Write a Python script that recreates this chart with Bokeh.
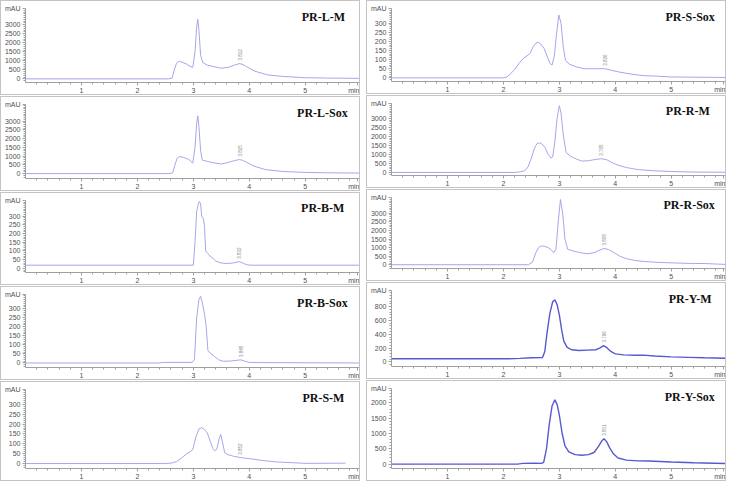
import numpy as np
from bokeh.plotting import figure
from bokeh.layouts import row, column
from bokeh.models import Range1d, FixedTicker
from bokeh.core.properties import value
from bokeh.embed import file_html
from bokeh.resources import INLINE

# ---------------- data (retention time in min, absorbance in mAU) ----------------
lm_t = [0, 2.55, 2.62, 2.66, 2.70, 2.74, 2.80, 2.88, 2.94, 2.99, 3.03, 3.06, 3.08, 3.10, 3.13, 3.17, 3.25, 3.34, 3.45, 3.51, 3.63, 3.75, 3.83, 3.89, 3.95, 4.10, 4.33, 4.62, 5.00, 5.40, 5.97]
lm_y = [0, 0, 40, 500, 880, 970, 920, 820, 700, 640, 1500, 2900, 3300, 2700, 1300, 900, 760, 700, 620, 594, 645, 783, 850, 790, 680, 425, 220, 133, 67, 45, 30]

ls_t = [0, 2.56, 2.63, 2.67, 2.71, 2.75, 2.82, 2.92, 2.99, 3.03, 3.06, 3.08, 3.10, 3.13, 3.16, 3.25, 3.33, 3.50, 3.62, 3.73, 3.82, 3.88, 3.93, 4.08, 4.30, 4.60, 5.00, 5.40, 5.97]
ls_y = [0, 0, 40, 480, 880, 976, 930, 805, 600, 1500, 2900, 3305, 2700, 1300, 770, 700, 634, 548, 634, 736, 805, 760, 685, 428, 222, 120, 68, 45, 30]

bm_t = [0, 3.00, 3.03, 3.06, 3.09, 3.11, 3.13, 3.15, 3.18, 3.20, 3.22, 3.26, 3.30, 3.35, 3.40, 3.48, 3.58, 3.70, 3.78, 3.83, 3.90, 3.96, 4.05, 5.97]
bm_y = [18, 18, 150, 330, 370, 385, 370, 300, 285, 240, 100, 85, 70, 58, 42, 32, 28, 30, 36, 38, 28, 20, 18, 18]

bs_t = [0, 2.40, 2.45, 2.98, 3.02, 3.06, 3.10, 3.13, 3.17, 3.20, 3.23, 3.26, 3.30, 3.38, 3.45, 3.52, 3.65, 3.78, 3.85, 3.92, 4.00, 4.20, 5.97]
bs_y = [0, 0, 3, 3, 20, 250, 350, 368, 320, 270, 200, 70, 55, 35, 18, 10, 10, 15, 17, 10, 3, 2, 0]

sm_t = [0, 2.50, 2.62, 2.70, 2.80, 2.88, 2.95, 2.99, 3.04, 3.10, 3.15, 3.20, 3.25, 3.30, 3.35, 3.38, 3.42, 3.46, 3.49, 3.52, 3.56, 3.62, 3.72, 3.85, 4.00, 4.25, 4.50, 4.80, 5.00, 5.72]
sm_y = [0, 0, 3, 10, 30, 50, 62, 70, 130, 175, 182, 172, 155, 115, 75, 65, 72, 125, 148, 110, 55, 45, 37, 30, 25, 15, 8, 4, 1, 2]

ss_t = [0, 2.00, 2.06, 2.12, 2.20, 2.28, 2.36, 2.44, 2.48, 2.53, 2.58, 2.62, 2.67, 2.73, 2.78, 2.83, 2.87, 2.91, 2.95, 2.99, 3.03, 3.07, 3.11, 3.18, 3.30, 3.45, 3.65, 3.82, 3.95, 4.10, 4.30, 4.50, 4.70, 5.00, 5.97]
ss_y = [0, 0, 5, 20, 45, 80, 108, 125, 135, 170, 190, 195, 185, 160, 120, 80, 70, 120, 240, 345, 300, 170, 95, 75, 60, 50, 50, 50, 40, 30, 20, 12, 10, 5, 2]

rm_t = [0, 2.20, 2.30, 2.38, 2.44, 2.50, 2.55, 2.60, 2.65, 2.70, 2.75, 2.80, 2.85, 2.88, 2.92, 2.96, 3.00, 3.03, 3.07, 3.12, 3.20, 3.30, 3.40, 3.52, 3.65, 3.75, 3.85, 3.95, 4.05, 4.20, 4.40, 4.70, 5.00, 5.40, 5.97]
rm_y = [0, 0, 30, 100, 300, 800, 1300, 1600, 1640, 1550, 1350, 1000, 800, 850, 1700, 3000, 3700, 3300, 2100, 1100, 900, 750, 630, 650, 720, 760, 700, 530, 400, 270, 160, 90, 50, 20, 10]

rs_t = [0, 2.45, 2.52, 2.58, 2.63, 2.68, 2.74, 2.80, 2.86, 2.90, 2.94, 2.98, 3.02, 3.06, 3.10, 3.15, 3.25, 3.38, 3.50, 3.62, 3.72, 3.80, 3.88, 3.98, 4.08, 4.20, 4.35, 4.50, 4.80, 5.10, 5.40, 5.60, 5.80, 5.97]
rs_y = [0, 0, 150, 700, 1000, 1100, 1070, 1000, 850, 700, 900, 2500, 3800, 3000, 1500, 900, 800, 700, 640, 700, 850, 950, 880, 700, 500, 350, 250, 190, 130, 100, 70, 70, 40, 20]

ym_t = [0, 2.10, 2.30, 2.50, 2.70, 2.74, 2.78, 2.83, 2.88, 2.92, 2.96, 3.00, 3.04, 3.08, 3.14, 3.22, 3.35, 3.50, 3.65, 3.72, 3.79, 3.85, 3.92, 4.00, 4.15, 4.35, 4.50, 4.70, 5.00, 5.30, 5.60, 5.97]
ym_y = [45, 45, 50, 58, 62, 150, 420, 700, 870, 900, 830, 680, 470, 300, 210, 175, 165, 170, 175, 200, 235, 205, 150, 115, 100, 95, 97, 85, 72, 65, 58, 52]

ys_t = [0, 2.25, 2.35, 2.55, 2.68, 2.72, 2.77, 2.82, 2.87, 2.92, 2.96, 3.00, 3.05, 3.10, 3.17, 3.28, 3.40, 3.52, 3.62, 3.70, 3.76, 3.80, 3.85, 3.90, 3.97, 4.05, 4.20, 4.40, 4.60, 5.00, 5.40, 5.97]
ys_y = [0, 0, 25, 30, 25, 60, 500, 1300, 1900, 2100, 1950, 1600, 1000, 600, 400, 310, 290, 310, 380, 580, 760, 830, 720, 530, 330, 200, 130, 105, 100, 70, 45, 20]

# panel names, peak marker labels (retention time printed at the ~3.8 min peak)
names_left = ["PR-L-M", "PR-L-Sox", "PR-B-M", "PR-B-Sox", "PR-S-M"]
names_right = ["PR-S-Sox", "PR-R-M", "PR-R-Sox", "PR-Y-M", "PR-Y-Sox"]
peak_rt = ["3.812", "3.815", "3.832", "3.845", "3.852", "3.826", "3.765", "3.808", "3.796", "3.801"]
peak_x = [3.83, 3.84, 3.82, 3.85, 3.84, 3.82, 3.75, 3.80, 3.79, 3.80]
peak_y = [850, 805, 38, 17, 30, 50, 760, 950, 235, 830]

# y-axis spec: (min, max shown as "mAU", major step, last numeric tick)
yaxis_left = [(-200, 3900, 500, 3000), (-280, 3950, 500, 3000), (-24, 390, 50, 300),
              (-25, 378, 50, 300), (-25, 375, 50, 300)]
yaxis_right = [(-20, 380, 50, 300), (-170, 3820, 500, 3000), (-220, 3920, 500, 3000),
               (-68, 1035, 200, 800), (-143, 2470, 500, 2000)]

x_major = [1, 2, 3, 4, 5]
x_unit_pos = 5.93

# ---------------- layout / style ----------------
LIGHT = "#a6a6ea"
DARK = "#5858d0"
AX = "#a0a0a0"
LBL = "#505050"
COL_W = 360

heights_left = [95, 95, 93, 94, 100]
heights_right = [94, 93, 92, 97, 101]
title_x_left = [5.71, 5.76, 5.70, 5.76, 5.70]
title_x_right = [5.78, 5.69, 5.78, 5.72, 5.78]


def make_panel(name, t, y, yspec, h, left_border, color, lw, tx, pk_lab, pk_x, pk_y):
    ymin, ymax, step, last = yspec
    p = figure(width=COL_W, height=h, output_backend="svg", toolbar_location=None,
               x_range=Range1d(0, 5.97), y_range=Range1d(ymin, ymax),
               min_border_left=left_border, min_border_right=2,
               min_border_top=7, min_border_bottom=10,
               styles={"border": "1px solid #c4c4c4", "box-sizing": "border-box"})
    p.outline_line_color = None
    p.grid.visible = False
    p.background_fill_color = "white"
    p.border_fill_color = "white"

    p.line(t, y, line_color=color, line_width=lw)

    # x axis
    xt = FixedTicker(ticks=x_major + [x_unit_pos],
                     minor_ticks=list(np.round(np.arange(0.2, 5.9, 0.2), 2)))
    p.xaxis.ticker = xt
    p.xaxis.major_label_overrides = {x_unit_pos: "min"}
    # y axis
    yt_major = list(range(0, last + 1, step)) + [ymax]
    minor_step = step / 5
    yt_minor = list(np.arange(0, ymax, minor_step)) + list(-np.arange(minor_step, -ymin, minor_step))
    p.yaxis.ticker = FixedTicker(ticks=yt_major, minor_ticks=yt_minor)
    p.yaxis.major_label_overrides = {ymax: "mAU"}

    for ax in (p.xaxis[0], p.yaxis[0]):
        ax.axis_line_color = AX
        ax.axis_line_width = 1
        ax.major_tick_line_color = AX
        ax.minor_tick_line_color = AX
        ax.major_tick_in = 0
        ax.major_tick_out = 3
        ax.minor_tick_in = 0
        ax.minor_tick_out = 2
        ax.major_label_text_font = "Liberation Sans"
        ax.major_label_text_font_size = "7px"
        ax.major_label_text_color = LBL
        ax.major_label_standoff = 2
    p.xaxis.major_label_standoff = 1

    # panel name
    ty = ymax - 0.11 * (ymax - ymin)
    p.text(x=[tx], y=[ty], text=[name], text_font=value("Liberation Serif"),
           text_font_style="bold", text_font_size="12px", text_align="right",
           text_baseline="middle", text_color="#111111")
    # retention time marker at the small peak
    p.text(x=[pk_x], y=[pk_y], text=[pk_lab], angle=np.pi / 2, text_font=value("Liberation Sans"),
           text_font_size="4.5px", text_align="left", text_baseline="middle",
           text_color="#888888", y_offset=-3)
    return p


left_data = [(lm_t, lm_y), (ls_t, ls_y), (bm_t, bm_y), (bs_t, bs_y), (sm_t, sm_y)]
right_data = [(ss_t, ss_y), (rm_t, rm_y), (rs_t, rs_y), (ym_t, ym_y), (ys_t, ys_y)]

left_panels = []
for i, (t, y) in enumerate(left_data):
    left_panels.append(make_panel(names_left[i], t, y, yaxis_left[i], heights_left[i], 24,
                                  LIGHT, 1.0, title_x_left[i], peak_rt[i], peak_x[i], peak_y[i]))
right_panels = []
for i, (t, y) in enumerate(right_data):
    color = DARK if i >= 3 else LIGHT
    lw = 1.4 if i >= 3 else 1.0
    right_panels.append(make_panel(names_right[i], t, y, yaxis_right[i], heights_right[i], 21,
                                   color, lw, title_x_right[i], peak_rt[i + 5], peak_x[i + 5], peak_y[i + 5]))

p = row(column(*left_panels, spacing=1), column(*right_panels, spacing=1), spacing=6)

open("out.html", "w").write(file_html(p, INLINE))
